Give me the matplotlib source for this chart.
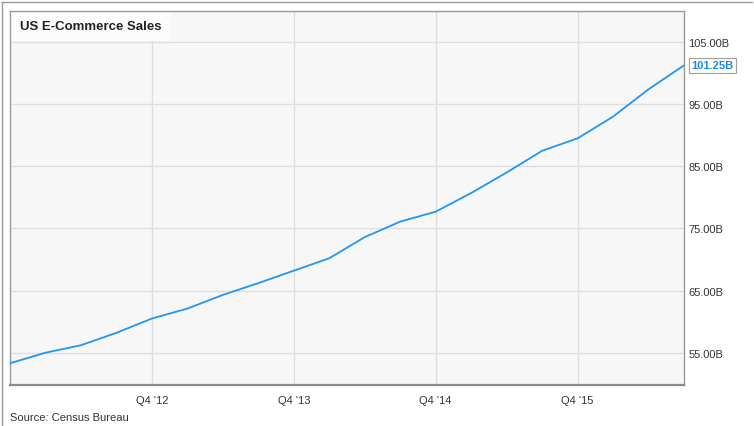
import numpy as np
import matplotlib.pyplot as plt
from matplotlib.patches import Rectangle

# quarterly US e-commerce sales, Q4 2011 .. Q3 2016 (billions)
quarters = ["Q4 '11", "Q1 '12", "Q2 '12", "Q3 '12", "Q4 '12", "Q1 '13", "Q2 '13", "Q3 '13",
            "Q4 '13", "Q1 '14", "Q2 '14", "Q3 '14", "Q4 '14", "Q1 '15", "Q2 '15", "Q3 '15",
            "Q4 '15", "Q1 '16", "Q2 '16", "Q3 '16"]
sales = [53.3, 55.0, 56.2, 58.2, 60.5, 62.1, 64.3, 66.2, 68.2, 70.2,
         73.6, 76.1, 77.7, 80.7, 84.0, 87.5, 89.5, 93.0, 97.4, 101.25]
tick_quarters = ["Q4 '12", "Q4 '13", "Q4 '14", "Q4 '15"]
y_ticks = [55, 65, 75, 85, 95, 105]

plt.rcParams['font.family'] = ['Liberation Sans', 'DejaVu Sans']

W, H = 754, 427
fig = plt.figure(figsize=(W/100, H/100), dpi=100)
ax = fig.add_axes([10/W, 1-386/H, 674/W, 374/H])
ax.set_facecolor('#f7f7f7')

x = np.arange(len(sales))
ax.plot(x, sales, color='#2196f3', lw=1.3, zorder=3)

ax.set_xlim(0, len(sales) - 1)
ax.set_ylim(49.8, 110)

ax.set_xticks([quarters.index(q) for q in tick_quarters])
ax.set_xticklabels(tick_quarters)
ax.set_yticks(y_ticks)
ax.set_yticklabels([f"{v:.2f}B" for v in y_ticks])
ax.yaxis.tick_right()
ax.tick_params(axis='both', length=0, labelsize=8, colors='#333333')
ax.tick_params(axis='x', pad=7)
ax.tick_params(axis='y', pad=3)
ax.grid(True, color='#dedede', lw=1)
ax.set_axisbelow(True)
for side in ['top', 'right', 'left']:
    ax.spines[side].set_color('#9a9a9a')
    ax.spines[side].set_linewidth(1)
ax.spines['bottom'].set_color('#8a8a8a')
ax.spines['bottom'].set_linewidth(1.6)

# last value marker label
ax.annotate(f"{sales[-1]:.2f}B", xy=(1, sales[-1]), xycoords=('axes fraction', 'data'),
            xytext=(5, 0), textcoords='offset points', va='center', ha='left',
            fontsize=8, fontweight='bold', color='#1e88e5',
            bbox=dict(boxstyle='square,pad=0.22', fc='white', ec='#a0a0a0', lw=0.8))

# title box (pixel placement inside the plot area)
ax.add_patch(Rectangle((0, 1 - 30/374), 160/674, 30/374, transform=ax.transAxes,
                       fc='#fcfcfc', ec='none', zorder=2))
ax.text(10/674, 1 - 15/374, "US E-Commerce Sales", transform=ax.transAxes,
        ha='left', va='center', fontsize=9.5, fontweight='bold', color='#222222', zorder=4)

fig.text(10/W, 1-418/H, "Source: Census Bureau", fontsize=8, color='#333333',
         ha='left', va='center')

# outer frame lines
fig.add_artist(plt.Line2D([2/W, 2/W], [0, 1-3/H], color='#9a9a9a', lw=1))
fig.add_artist(plt.Line2D([2/W, 752/W], [1-3/H, 1-3/H], color='#9a9a9a', lw=1))

fig.savefig('out.png', dpi=100)
